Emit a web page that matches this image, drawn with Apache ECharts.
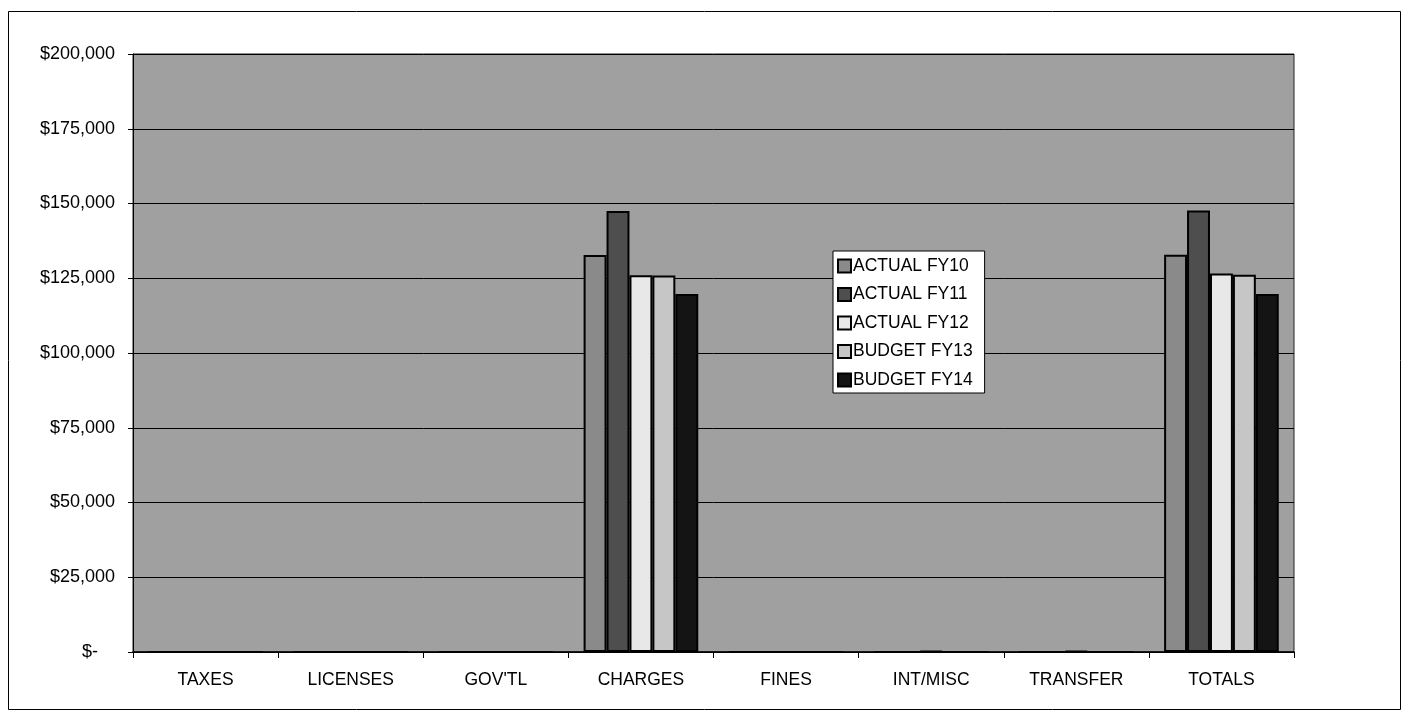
<!DOCTYPE html>
<html>
<head>
<meta charset="utf-8">
<title>Revenue by Source</title>
<script src="https://cdn.jsdelivr.net/npm/echarts@6/dist/echarts.min.js"></script>
<style>
  html, body { margin: 0; padding: 0; background: #ffffff; }
  #chart { width: 1409px; height: 721px; }
</style>
</head>
<body>
<div id="chart"></div>
<script>
// Revenue sources
const categories = ['TAXES', 'LICENSES', "GOV'TL", 'CHARGES', 'FINES', 'INT/MISC', 'TRANSFER', 'TOTALS'];

// Dollar amounts per source and fiscal year
const actualFY10 = [0, 0, 0, 132800, 0, 0, 0, 132900];
const actualFY11 = [0, 0, 0, 147500, 0, 0, 0, 147700];
const actualFY12 = [0, 0, 0, 126000, 0, 300, 300, 126600];
const budgetFY13 = [0, 0, 0, 125900, 0, 0, 0, 126200];
const budgetFY14 = [0, 0, 0, 119700, 0, 0, 0, 119700];

const seriesNames = ['ACTUAL FY10', 'ACTUAL FY11', 'ACTUAL FY12', 'BUDGET FY13', 'BUDGET FY14'];

// Value axis ticks
const yMin = 0;
const yMax = 200000;
const yStep = 25000;

const FONT = '"Liberation Sans", Arial, sans-serif';
const fills = ['#8a8a8a', '#4e4e4e', '#e8e8e8', '#c6c6c6', '#141414'];
const seriesData = [actualFY10, actualFY11, actualFY12, budgetFY13, budgetFY14];

const chart = echarts.init(document.getElementById('chart'), null, { renderer: 'canvas' });

function money(v) {
  if (v === 0) return '{z|$-}';
  return '$' + v.toLocaleString('en-US');
}

chart.setOption({
  animation: false,
  backgroundColor: '#ffffff',
  textStyle: { fontFamily: FONT },
  graphic: [{
    type: 'rect',
    shape: { x: 8.5, y: 11.5, width: 1392, height: 698 },
    style: { fill: 'none', stroke: '#000', lineWidth: 1 },
    silent: true,
    z: -1
  }],
  grid: {
    left: 133,
    right: 115,
    top: 54,
    bottom: 69,
    show: true,
    backgroundColor: '#a0a0a0',
    borderColor: '#222',
    borderWidth: 1
  },
  legend: {
    orient: 'vertical',
    left: 833,
    top: 251,
    data: seriesNames,
    backgroundColor: '#ffffff',
    borderColor: '#000',
    borderWidth: 1,
    borderRadius: 0,
    padding: [6, 12, 4, 4],
    itemWidth: 13,
    itemHeight: 13,
    itemGap: 10.5,
    icon: 'rect',
    textStyle: { fontFamily: FONT, fontSize: 17.5, color: '#000', lineHeight: 18, padding: [0, 0, 0, -3] }
  },
  xAxis: {
    type: 'category',
    data: categories,
    axisLine: { show: true, lineStyle: { color: '#000', width: 1.5 } },
    axisTick: { show: true, alignWithLabel: false, length: 6, inside: false, lineStyle: { color: '#000' } },
    axisLabel: { color: '#000', fontFamily: FONT, fontSize: 17.5, margin: 19 },
    splitLine: { show: false }
  },
  yAxis: {
    type: 'value',
    min: yMin,
    max: yMax,
    interval: yStep,
    axisLine: { show: true, lineStyle: { color: '#000', width: 1 } },
    axisTick: { show: true, length: 5, lineStyle: { color: '#000' } },
    axisLabel: {
      color: '#000',
      fontFamily: FONT,
      fontSize: 18,
      margin: 18,
      formatter: money,
      rich: { z: { fontFamily: FONT, fontSize: 18, color: '#000', padding: [0, 17, 0, 0] } }
    },
    splitLine: { show: true, lineStyle: { color: '#000', width: 1 } }
  },
  series: seriesNames.map((name, i) => ({
    name: name,
    type: 'bar',
    data: seriesData[i],
    barGap: '0%',
    barCategoryGap: '21%',
    itemStyle: { color: fills[i], borderColor: '#000', borderWidth: 2 },
    emphasis: { disabled: true }
  }))
});
</script>
</body>
</html>
